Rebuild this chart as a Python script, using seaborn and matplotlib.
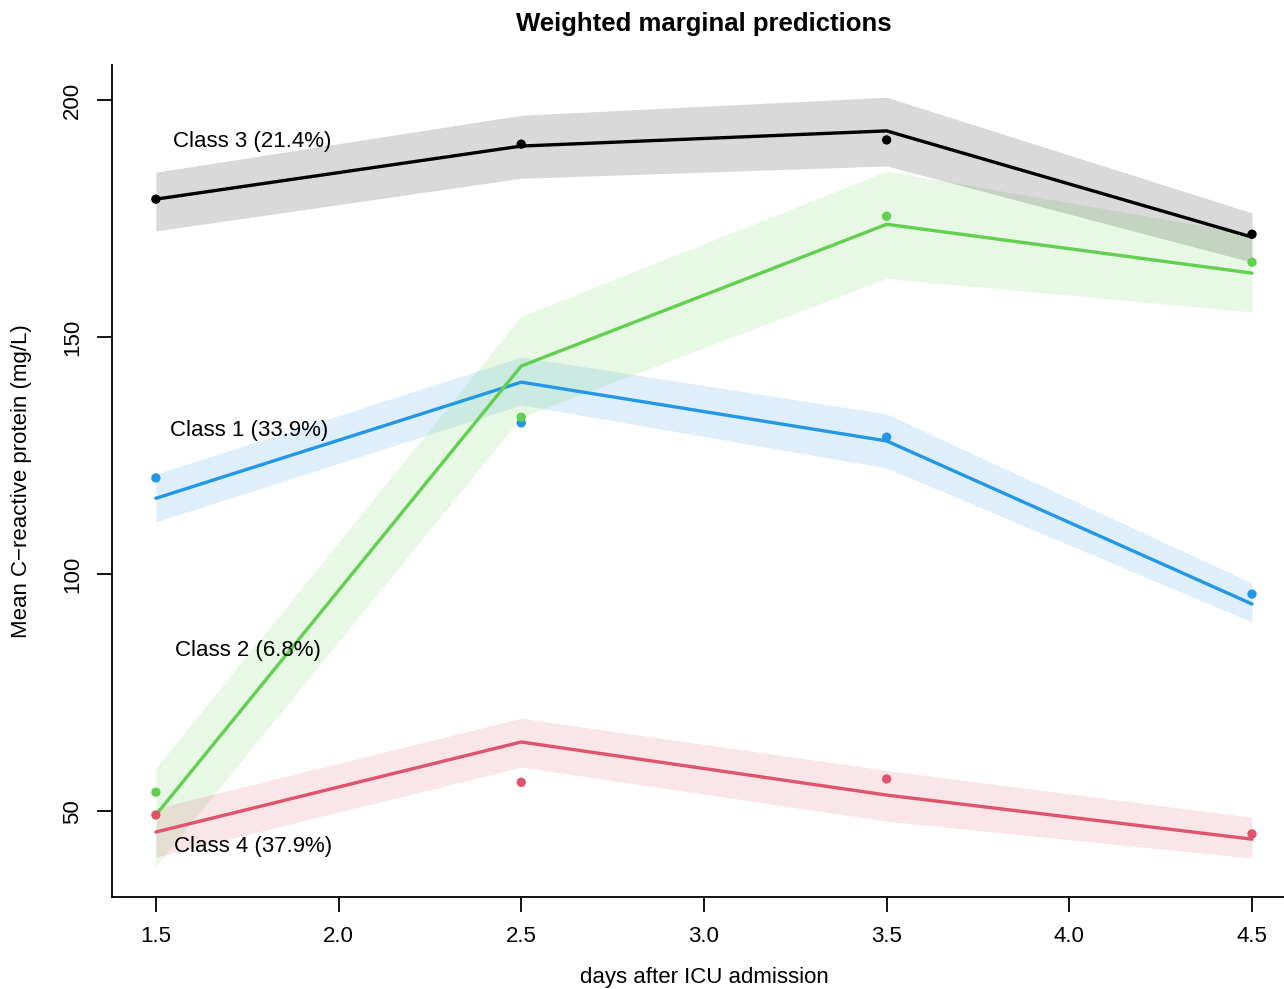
import numpy as np
import pandas as pd
import matplotlib
matplotlib.use("Agg")
import matplotlib.pyplot as plt
import seaborn as sns

days = [1.5, 2.5, 3.5, 4.5]
classes = ["Class 1", "Class 2", "Class 3", "Class 4"]
labels = ["Class 1 (33.9%)", "Class 2 (6.8%)", "Class 3 (21.4%)", "Class 4 (37.9%)"]
colors = ["#2297E6", "#61D04F", "#000000", "#DF536B"]

# fitted (weighted) means
pred_c1 = [116.0, 140.5, 128.1, 93.7]
pred_c2 = [49.2, 143.9, 173.8, 163.5]
pred_c3 = [179.1, 190.3, 193.5, 171.1]
pred_c4 = [45.6, 64.6, 53.4, 44.1]

# lower / upper of the band
lo_c1 = [111.0, 135.7, 122.4, 89.9]
hi_c1 = [121.1, 145.8, 133.8, 98.1]
lo_c2 = [38.4, 133.1, 162.4, 155.3]
hi_c2 = [59.1, 154.4, 185.0, 171.7]
lo_c3 = [172.4, 183.5, 186.1, 165.8]
hi_c3 = [184.8, 196.8, 200.6, 176.2]
lo_c4 = [40.3, 59.3, 47.9, 40.1]
hi_c4 = [50.6, 69.6, 58.6, 48.7]

# observed means
obs_c1 = [120.3, 131.9, 128.9, 95.8]
obs_c2 = [54.0, 133.1, 175.5, 165.8]
obs_c3 = [179.1, 190.7, 191.6, 171.7]
obs_c4 = [49.2, 56.1, 56.8, 45.2]

preds = [pred_c1, pred_c2, pred_c3, pred_c4]
lows = [lo_c1, lo_c2, lo_c3, lo_c4]
highs = [hi_c1, hi_c2, hi_c3, hi_c4]
obs = [obs_c1, obs_c2, obs_c3, obs_c4]

rows = []
for c, p, l, h, o in zip(classes, preds, lows, highs, obs):
    for d, pv, lv, hv, ov in zip(days, p, l, h, o):
        rows.append({"day": d, "cls": c, "pred": pv, "lo": lv, "hi": hv, "obs": ov})
df = pd.DataFrame(rows)

sns.set_style("white")
plt.rcParams["font.family"] = ["Liberation Sans", "DejaVu Sans"]
plt.rcParams["text.color"] = "black"
plt.rcParams["axes.labelcolor"] = "black"

fig = plt.figure(figsize=(12.84, 9.89), dpi=100)
ax = fig.add_axes([112 / 1284, 1 - 897 / 989, 1 - 112 / 1284, (897 - 65) / 989])

pal = dict(zip(classes, colors))
for c in classes:
    sub = df[df.cls == c]
    ax.fill_between(sub.day, sub.lo, sub.hi, color=pal[c], alpha=0.15, linewidth=0)

sns.lineplot(data=df, x="day", y="pred", hue="cls", palette=pal, linewidth=2.4,
             legend=False, ax=ax, estimator=None)
sns.scatterplot(data=df, x="day", y="obs", hue="cls", palette=pal, s=45,
                edgecolor="none", legend=False, ax=ax, zorder=5)

# class labels
label_pos = [(1.538, 130.2), (1.552, 83.8), (1.546, 191.35), (1.549, 42.6)]
for lab, (x, y) in zip(labels, label_pos):
    ax.text(x, y, lab, fontsize=16, ha="left", va="center", color="black")

ax.set_xlim(1.38, 1.5 + (1284 - 155) / 365.67)
ax.set_ylim(31.9, 207.4)
ax.set_xticks([1.5, 2.0, 2.5, 3.0, 3.5, 4.0, 4.5])
ax.set_xticklabels(["1.5", "2.0", "2.5", "3.0", "3.5", "4.0", "4.5"])
ax.set_yticks([50, 100, 150, 200])
ax.set_yticklabels(["50", "100", "150", "200"], rotation=90, va="center")
ax.tick_params(direction="out", length=11, width=1.3, labelsize=16, pad=10,
               bottom=True, left=True, color="black", labelcolor="black")
for s in ["top", "right"]:
    ax.spines[s].set_visible(False)
for s in ["left", "bottom"]:
    ax.spines[s].set_color("black")
    ax.spines[s].set_linewidth(1.3)

ax.set_xlabel("")
ax.set_ylabel("")
fig.text(704 / 1284, 1 - 977 / 989, "days after ICU admission", fontsize=16,
         ha="center", va="center", color="black")
fig.text(22 / 1284, 1 - 481 / 989, "Mean C\u2212reactive protein (mg/L)", fontsize=16,
         ha="center", va="center", rotation=90, color="black")
fig.text(704 / 1284, 1 - 24 / 989, "Weighted marginal predictions", fontsize=18.5,
         fontweight="bold", ha="center", va="center", color="black")

fig.savefig("out.png", dpi=100)
